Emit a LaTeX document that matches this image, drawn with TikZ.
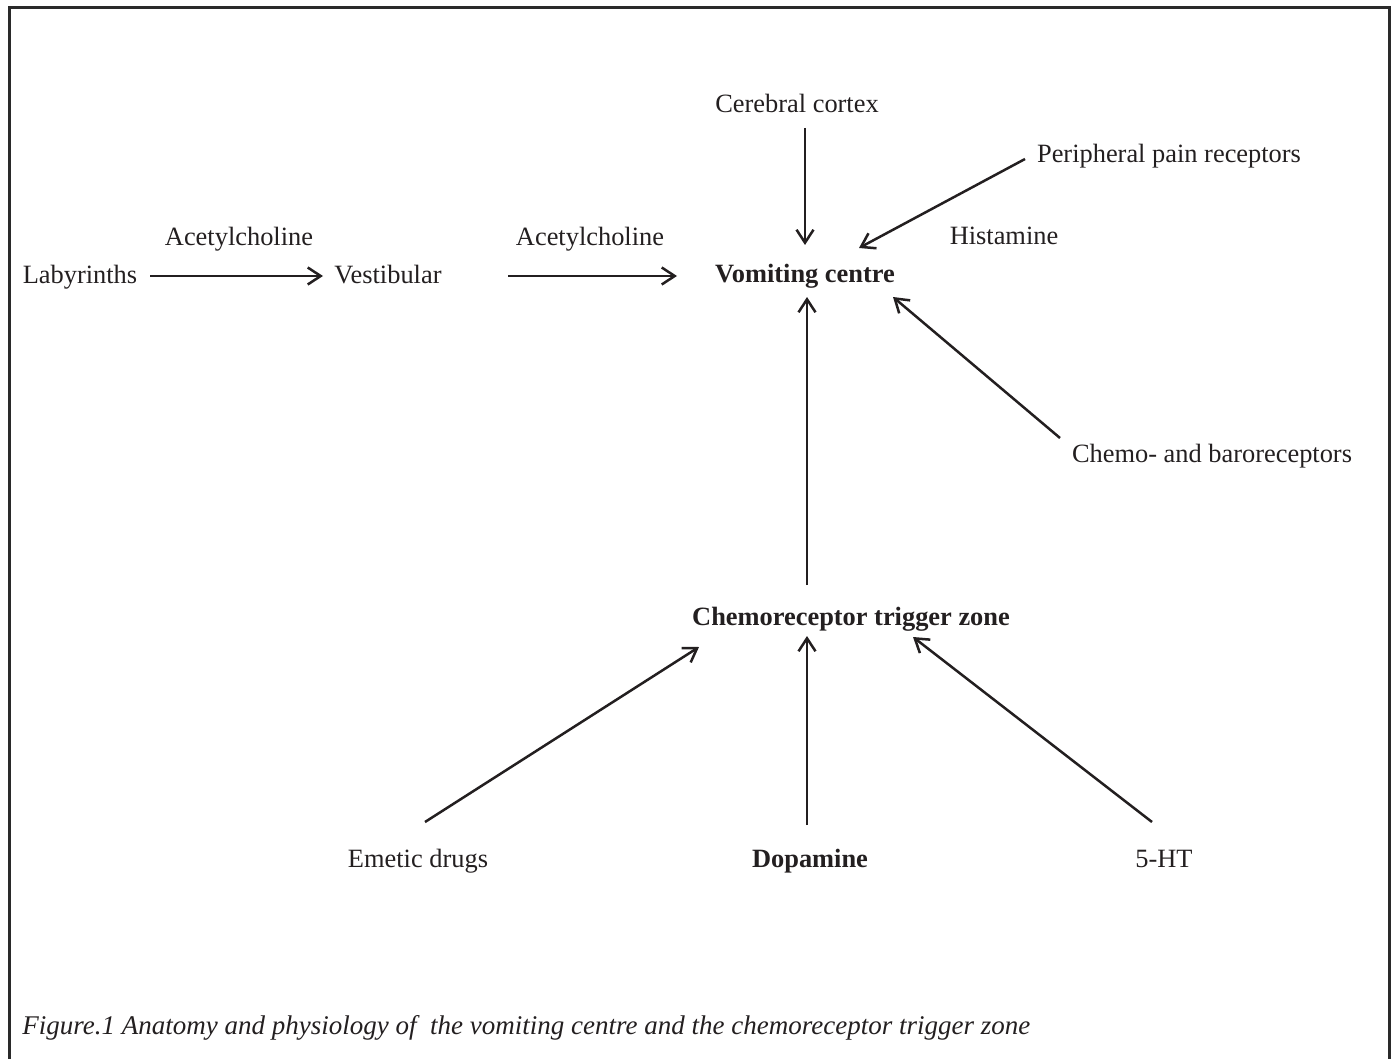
\documentclass[tikz,border=0pt]{standalone}
\usepackage{fontspec}
\setmainfont{Liberation Serif}
\usetikzlibrary{arrows.meta}
\definecolor{ink}{HTML}{231F20}
\definecolor{framec}{HTML}{2A2A2A}
\begin{document}
\begin{tikzpicture}[x=0.5pt,y=-0.5pt,
  lbl/.style={anchor=base,inner sep=0pt,text=ink,font=\fontsize{13.2pt}{16pt}\selectfont},
  bl/.style={lbl,font=\fontsize{13.2pt}{16pt}\selectfont\bfseries},
  arr/.style={draw=ink,line width=1.25pt,-{Straight Barb[length=6.5pt,width=8.5pt,line width=1.25pt]}}]
\useasboundingbox (0,0) rectangle (1396,1059);
\clip (0,0) rectangle (1396,1059);
% frame
\draw[framec,line width=1.5pt] (9,1100) -- (9,7.5) -- (1389,7.5) -- (1389,1100);
% labels
\node[lbl] (cc) at (797,113) {Cerebral cortex};
\node[lbl] (ppr) at (1169,163) {Peripheral pain receptors};
\node[lbl] (ach1) at (239,245) {Acetylcholine};
\node[lbl] (ach2) at (590,245) {Acetylcholine};
\node[lbl] (hist) at (1004,244) {Histamine};
\node[lbl] (lab) at (80,283) {Labyrinths};
\node[lbl] (vest) at (388,283) {Vestibular};
\node[bl] (vc) at (805,282) {Vomiting centre};
\node[lbl] (chb) at (1212,462) {Chemo- and baroreceptors};
\node[bl] (ctz) at (851,625) {Chemoreceptor trigger zone};
\node[lbl] (em) at (418,867) {Emetic drugs};
\node[bl] (dop) at (810,867) {Dopamine};
\node[lbl] (ht) at (1164,867) {5-HT};
\node[lbl,anchor=base west,font=\fontsize{13.5pt}{16pt}\selectfont\itshape] (cap) at (22,1034)
  {Figure.1 Anatomy and physiology of\ \ the vomiting centre and the chemoreceptor trigger zone};
% connector end points
\coordinate (lab-o) at (150,276);
\coordinate (vest-i) at (323,276);
\coordinate (vest-o) at (508,276);
\coordinate (vc-w) at (677,276);
\coordinate (cc-o) at (805,128);
\coordinate (vc-n) at (805,245);
\coordinate (ppr-o) at (1025,159);
\coordinate (vc-ne) at (859,248);
\coordinate (chb-o) at (1060,438);
\coordinate (vc-se) at (893,297);
\coordinate (ctz-o) at (807,585);
\coordinate (vc-s) at (807,297);
\coordinate (em-o) at (425,822);
\coordinate (ctz-sw) at (699,647);
\coordinate (dop-o) at (807,825);
\coordinate (ctz-s) at (807,636);
\coordinate (ht-o) at (1152,822);
\coordinate (ctz-se) at (913,637);
% connectors
\draw[arr] (lab-o) -- (vest-i);
\draw[arr] (vest-o) -- (vc-w);
\draw[arr] (cc-o) -- (vc-n);
\draw[arr] (ppr-o) -- (vc-ne);
\draw[arr] (chb-o) -- (vc-se);
\draw[arr] (ctz-o) -- (vc-s);
\draw[arr] (em-o) -- (ctz-sw);
\draw[arr] (dop-o) -- (ctz-s);
\draw[arr] (ht-o) -- (ctz-se);
\end{tikzpicture}
\end{document}
